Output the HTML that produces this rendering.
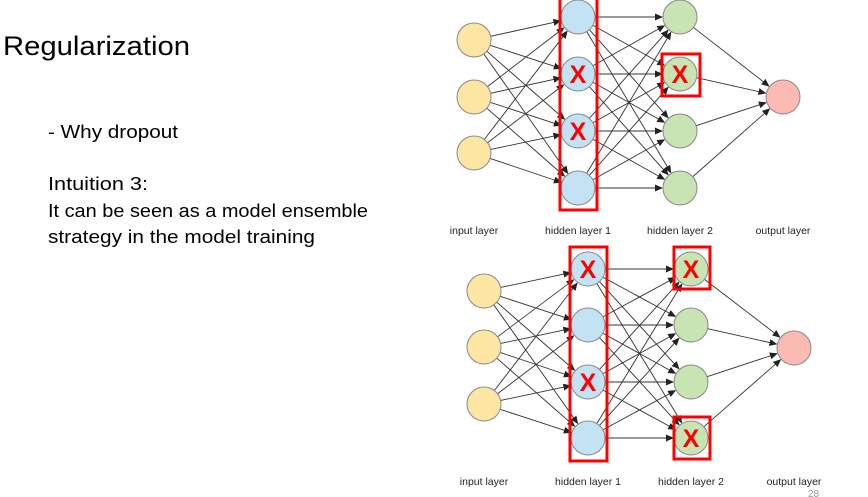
<!DOCTYPE html>
<html><head><meta charset="utf-8"><style>
html,body{margin:0;padding:0;background:#fff;width:868px;height:497px;overflow:hidden}
svg{display:block}
text{font-family:"Liberation Sans",sans-serif}
</style></head><body>
<svg id="s" width="868" height="497" viewBox="0 0 868 497" xmlns="http://www.w3.org/2000/svg">
<defs><marker id="a" markerWidth="8" markerHeight="8" refX="7" refY="4" orient="auto" markerUnits="userSpaceOnUse"><path d="M0,0.5 L8,4 L0,7.5 Z" fill="#222"/></marker></defs>
<text x="3" y="55" font-size="27" textLength="187" lengthAdjust="spacingAndGlyphs" fill="#000">Regularization</text>
<text x="48" y="138" font-size="18" textLength="130" lengthAdjust="spacingAndGlyphs">- Why dropout</text>
<text x="48" y="190" font-size="18" textLength="100" lengthAdjust="spacingAndGlyphs">Intuition 3:</text>
<text x="48" y="217" font-size="18" textLength="320" lengthAdjust="spacingAndGlyphs">It can be seen as a model ensemble</text>
<text x="48" y="243" font-size="18" textLength="267" lengthAdjust="spacingAndGlyphs">strategy in the model training</text>
<g id="g"></g>
</svg>
<script>
var g=document.getElementById('g'),NS='http://www.w3.org/2000/svg';
function el(t,a,txt){var e=document.createElementNS(NS,t);for(var k in a)e.setAttribute(k,a[k]);if(txt)e.textContent=txt;g.appendChild(e);return e;}
var R=17;
function net(xs,h,inY,outY,xH1,xH2,boxes,labY){
 var layers=[[xs[0],inY,'#fde6a3'],[xs[1],h,'#c3e2f4'],[xs[2],h,'#c8e4b2'],[xs[3],[outY],'#fbbab2']];
 for(var l=0;l<3;l++){var A=layers[l],B=layers[l+1];
  A[1].forEach(function(y1){B[1].forEach(function(y2){
   var dx=B[0]-A[0],dy=y2-y1,d=Math.sqrt(dx*dx+dy*dy);
   el('line',{x1:A[0]+dx/d*R,y1:y1+dy/d*R,x2:B[0]-dx/d*(R+1),y2:y2-dy/d*(R+1),stroke:'#333','stroke-width':0.9,'marker-end':'url(#a)'});
  });});}
 layers.forEach(function(L){L[1].forEach(function(y){el('circle',{cx:L[0],cy:y,r:R,fill:L[2],stroke:'#888','stroke-width':1});});});
 xH1.forEach(function(i){el('text',{x:xs[1],y:h[i]+9,'font-size':25,'font-weight':'bold','text-anchor':'middle',fill:'#f00'},'X');});
 xH2.forEach(function(i){el('text',{x:xs[2],y:h[i]+9,'font-size':25,'font-weight':'bold','text-anchor':'middle',fill:'#f00'},'X');});
 boxes.forEach(function(b){el('rect',{x:b[0],y:b[1],width:b[2],height:b[3],fill:'none',stroke:'#f00','stroke-width':3});});
 var names=['input layer','hidden layer 1','hidden layer 2','output layer'];
 xs.forEach(function(x,i){el('text',{x:x,y:labY,'font-size':10.5,'text-anchor':'middle',fill:'#222'},names[i]);});
}
net([474,578,680,783],[17,74,131,188],[40,97,153],97,[1,2],[1],[[560,-2,37,212],[662,54,38,42]],234);
net([484,588,691,794],[269,325,382,438],[291,347,404],348,[0,2],[0,3],[[570,247,37,214],[674,247,36,42],[674,417,36,42]],485);
el('text',{x:808,y:497,'font-size':10,fill:'#999'},'28');
</script>
</body></html>
